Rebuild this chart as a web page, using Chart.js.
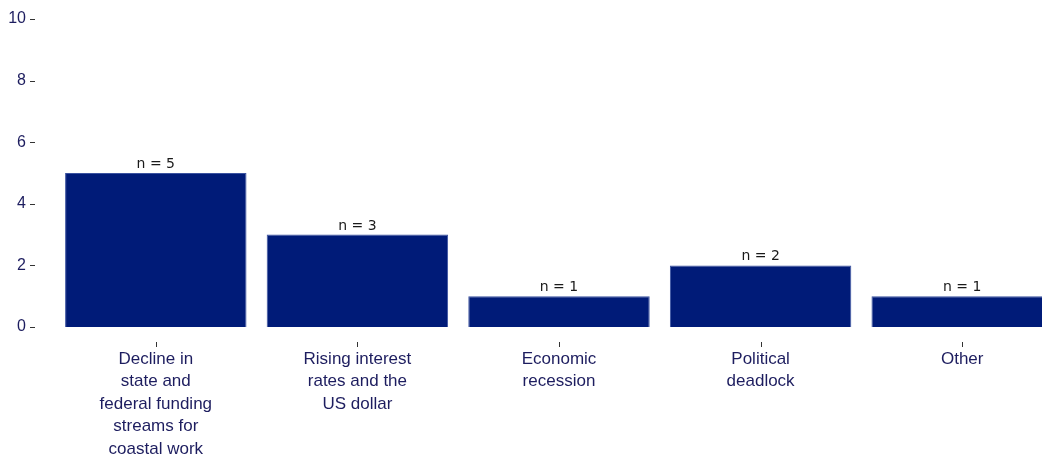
<!DOCTYPE html>
<html>
<head>
<meta charset="utf-8">
<script src="https://cdn.jsdelivr.net/npm/chart.js@4/dist/chart.umd.min.js"></script>
<style>
  html, body { margin: 0; padding: 0; background: #fff; overflow: hidden; }
  #wrap { width: 1063px; height: 456px; }
</style>
</head>
<body>
<div id="wrap"><canvas id="chart" width="1063" height="456"></canvas></div>
<script>
// --- Data ---
const categories = [
    ['Decline in', 'state and', 'federal funding', 'streams for', 'coastal work'],
    ['Rising interest', 'rates and the', 'US dollar'],
    ['Economic', 'recession'],
    ['Political', 'deadlock'],
    ['Other']
];
const counts = [5, 3, 1, 2, 1];
const yTicks = [0, 2, 4, 6, 8, 10];

const NAVY = '#001b78';
const TEXT = '#1d1d5f';

// tick marks + "n = x" labels drawn on top of the bars
const annotate = {
    id: 'annotate',
    afterDatasetsDraw(chart) {
        const ctx = chart.ctx;
        const x = chart.scales.x;
        const y = chart.scales.y;
        ctx.save();
        ctx.strokeStyle = '#333';
        ctx.lineWidth = 1;

        // y dashes beside the labels
        yTicks.forEach(v => {
            const py = Math.round(y.getPixelForValue(v)) + 0.5;
            ctx.beginPath();
            ctx.moveTo(30, py);
            ctx.lineTo(35, py);
            ctx.stroke();
        });

        // short x ticks under the plot
        categories.forEach((c, i) => {
            const px = Math.round(x.getPixelForTick(i)) + 0.5;
            ctx.beginPath();
            ctx.moveTo(px, 342);
            ctx.lineTo(px, 347);
            ctx.stroke();
        });

        // counts above bars
        ctx.fillStyle = '#1a1a1a';
        ctx.font = '14px "DejaVu Sans"';
        ctx.textAlign = 'center';
        ctx.textBaseline = 'alphabetic';
        chart.getDatasetMeta(0).data.forEach((bar, i) => {
            ctx.fillText('n = ' + counts[i], bar.x, bar.y - 5);
        });
        ctx.restore();
    }
};

new Chart(document.getElementById('chart'), {
    type: 'bar',
    data: {
        labels: categories,
        datasets: [{
            data: counts,
            backgroundColor: NAVY,
            borderColor: '#3a52a0',
            borderWidth: 1,
            categoryPercentage: 0.9,
            barPercentage: 1.0
        }]
    },
    options: {
        responsive: false,
        animation: false,
        layout: { padding: { top: 19, right: 0, left: 0, bottom: 0 } },
        plugins: { legend: { display: false }, tooltip: { enabled: false } },
        scales: {
            x: {
                grid: { display: false },
                border: { display: false },
                ticks: {
                    color: TEXT,
                    font: { family: '"Liberation Sans", Arial, sans-serif', size: 17, lineHeight: '22.5px' },
                    padding: 13,
                    maxRotation: 0,
                    autoSkip: false
                },
                afterFit(scale) {
                    scale.height = 129;
                    scale.paddingLeft = 0;
                    scale.paddingRight = 0;
                }
            },
            y: {
                min: 0,
                max: 10,
                grid: { display: false },
                border: { display: false },
                afterBuildTicks(scale) { scale.ticks = yTicks.map(v => ({ value: v })); },
                ticks: {
                    color: TEXT,
                    font: { family: '"Liberation Sans", Arial, sans-serif', size: 16 },
                    padding: 21
                },
                afterFit(scale) {
                    scale.width = 55;
                    scale.paddingTop = 0;
                    scale.paddingBottom = 0;
                }
            }
        }
    },
    plugins: [annotate]
});
</script>
</body>
</html>
